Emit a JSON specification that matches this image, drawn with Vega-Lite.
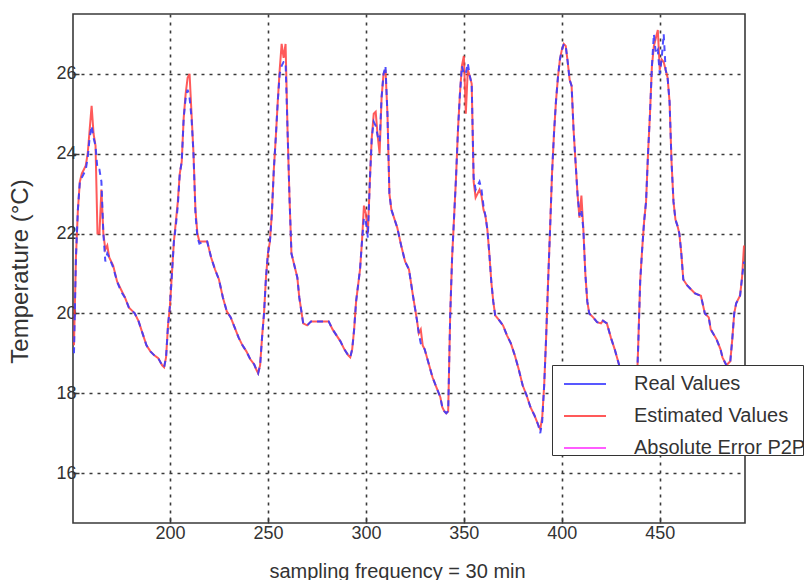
{
  "$schema": "https://vega.github.io/schema/vega-lite/v6.json",
  "width": 672,
  "height": 509,
  "autosize": {"type": "none"},
  "padding": {"left": 73, "top": 14, "right": 59, "bottom": 57},
  "background": "white",
  "config": {
    "font": "Liberation Sans",
    "view": {"stroke": "#3a3a3a", "strokeWidth": 1.6},
    "axis": {
      "domain": false,
      "grid": true,
      "gridColor": "#3a3a3a",
      "gridDash": [3, 5],
      "gridWidth": 1.6,
      "gridOpacity": 1,
      "tickColor": "#3a3a3a",
      "tickWidth": 1.5,
      "tickSize": -6,
      "labelFont": "Liberation Sans",
      "labelFontSize": 18,
      "labelColor": "#333333",
      "titleFont": "Liberation Sans",
      "titleFontWeight": "normal",
      "titleColor": "#333333"
    }
  },
  "data": {
    "values": [
      {"x":151,"r":19.0,"e":19.2},{"x":152,"r":21.4,"e":21.4},{"x":153,"r":22.6,"e":22.6},{"x":154,"r":23.3,"e":23.3},
      {"x":155,"r":23.4,"e":23.5},{"x":156,"r":23.5,"e":23.6},{"x":157,"r":23.6,"e":23.7},{"x":158,"r":23.9,"e":24.0},
      {"x":159,"r":24.4,"e":24.6},{"x":160,"r":24.7,"e":25.2},{"x":161,"r":24.4,"e":24.5},{"x":162,"r":24.2,"e":24.2},
      {"x":163,"r":23.6,"e":22.0},{"x":164,"r":23.6,"e":22.0},{"x":165,"r":23.3,"e":23.1},{"x":166,"r":22.0,"e":22.0},
      {"x":167,"r":21.3,"e":21.6},{"x":168,"r":21.5,"e":21.7},{"x":169,"r":21.4,"e":21.4},{"x":171,"r":21.15,"e":21.2},
      {"x":173,"r":20.8,"e":20.8},{"x":175,"r":20.55,"e":20.6},{"x":177,"r":20.4,"e":20.4},{"x":179,"r":20.15,"e":20.15},
      {"x":181,"r":20.05,"e":20.05},{"x":182,"r":20.0,"e":20.0},{"x":184,"r":19.8,"e":19.8},{"x":186,"r":19.5,"e":19.5},
      {"x":188,"r":19.2,"e":19.2},{"x":190,"r":19.05,"e":19.05},{"x":192,"r":18.95,"e":18.95},{"x":194,"r":18.88,"e":18.88},
      {"x":196,"r":18.7,"e":18.7},{"x":197,"r":18.65,"e":18.65},{"x":198,"r":18.9,"e":18.9},{"x":199,"r":19.7,"e":19.7},
      {"x":200,"r":20.2,"e":20.2},{"x":201,"r":21.0,"e":21.0},{"x":202,"r":21.8,"e":21.8},{"x":203,"r":22.2,"e":22.3},
      {"x":204,"r":22.7,"e":22.8},{"x":205,"r":23.5,"e":23.5},{"x":206,"r":23.8,"e":23.8},{"x":207,"r":24.9,"e":24.9},
      {"x":208,"r":25.4,"e":25.5},{"x":209,"r":25.6,"e":25.9},{"x":210,"r":25.4,"e":26.0},{"x":211,"r":24.9,"e":25.0},
      {"x":212,"r":24.0,"e":24.0},{"x":213,"r":22.5,"e":22.6},{"x":214,"r":21.9,"e":22.0},{"x":215,"r":21.75,"e":21.8},
      {"x":217,"r":21.8,"e":21.8},{"x":219,"r":21.8,"e":21.8},{"x":221,"r":21.4,"e":21.4},{"x":223,"r":21.1,"e":21.1},
      {"x":225,"r":20.85,"e":20.85},{"x":227,"r":20.4,"e":20.4},{"x":229,"r":20.05,"e":20.05},{"x":231,"r":19.9,"e":19.9},
      {"x":233,"r":19.65,"e":19.65},{"x":235,"r":19.4,"e":19.4},{"x":237,"r":19.2,"e":19.2},{"x":239,"r":19.05,"e":19.05},
      {"x":241,"r":18.85,"e":18.85},{"x":243,"r":18.72,"e":18.72},{"x":244,"r":18.6,"e":18.6},{"x":245,"r":18.5,"e":18.5},
      {"x":246,"r":18.7,"e":18.7},{"x":247,"r":19.4,"e":19.4},{"x":248,"r":20.0,"e":20.0},{"x":249,"r":20.9,"e":20.9},
      {"x":250,"r":21.5,"e":21.5},{"x":251,"r":21.8,"e":21.8},{"x":252,"r":22.5,"e":22.5},{"x":253,"r":23.6,"e":23.6},
      {"x":254,"r":24.4,"e":24.4},{"x":255,"r":25.3,"e":25.3},{"x":256,"r":26.0,"e":26.1},{"x":257,"r":26.2,"e":26.75},
      {"x":258,"r":26.3,"e":26.4},{"x":259,"r":26.3,"e":26.75},{"x":260,"r":24.6,"e":24.6},{"x":261,"r":22.9,"e":22.9},
      {"x":262,"r":21.5,"e":21.5},{"x":264,"r":21.1,"e":21.1},{"x":265,"r":20.9,"e":20.9},{"x":266,"r":20.4,"e":20.4},
      {"x":268,"r":19.75,"e":19.75},{"x":270,"r":19.7,"e":19.7},{"x":272,"r":19.8,"e":19.8},{"x":281,"r":19.8,"e":19.8},
      {"x":283,"r":19.6,"e":19.6},{"x":285,"r":19.45,"e":19.45},{"x":287,"r":19.3,"e":19.3},{"x":289,"r":19.1,"e":19.1},
      {"x":291,"r":18.95,"e":18.95},{"x":292,"r":18.9,"e":18.9},{"x":293,"r":19.1,"e":19.1},{"x":294,"r":19.6,"e":19.6},
      {"x":295,"r":20.3,"e":20.3},{"x":297,"r":21.1,"e":21.1},{"x":298,"r":21.8,"e":21.8},{"x":299,"r":22.4,"e":22.7},
      {"x":300,"r":22.3,"e":22.5},{"x":301,"r":21.9,"e":22.0},{"x":302,"r":23.3,"e":23.3},{"x":303,"r":24.4,"e":24.4},
      {"x":304,"r":24.8,"e":25.0},{"x":305,"r":24.7,"e":25.05},{"x":306,"r":24.45,"e":24.45},{"x":307,"r":24.3,"e":24.0},
      {"x":308,"r":25.4,"e":25.4},{"x":309,"r":26.0,"e":26.0},{"x":310,"r":26.2,"e":26.1},{"x":311,"r":25.0,"e":25.0},
      {"x":312,"r":23.0,"e":23.0},{"x":313,"r":22.6,"e":22.6},{"x":314,"r":22.45,"e":22.45},{"x":316,"r":22.15,"e":22.15},
      {"x":318,"r":21.7,"e":21.7},{"x":320,"r":21.3,"e":21.3},{"x":322,"r":21.1,"e":21.1},{"x":324,"r":20.45,"e":20.45},
      {"x":326,"r":19.85,"e":19.85},{"x":327,"r":19.5,"e":19.5},{"x":328,"r":19.25,"e":19.6},{"x":329,"r":19.2,"e":19.2},
      {"x":330,"r":19.1,"e":19.1},{"x":332,"r":18.75,"e":18.75},{"x":334,"r":18.4,"e":18.4},{"x":336,"r":18.15,"e":18.15},
      {"x":338,"r":17.9,"e":17.9},{"x":339,"r":17.65,"e":17.65},{"x":340,"r":17.55,"e":17.55},{"x":341,"r":17.5,"e":17.5},
      {"x":342,"r":17.55,"e":17.55},{"x":343,"r":19.9,"e":19.9},{"x":344,"r":21.4,"e":21.4},{"x":345,"r":22.4,"e":22.4},
      {"x":346,"r":23.4,"e":23.4},{"x":347,"r":24.6,"e":24.6},{"x":348,"r":25.5,"e":25.5},{"x":349,"r":26.2,"e":26.2},
      {"x":350,"r":26.0,"e":26.45},{"x":351,"r":26.0,"e":25.0},{"x":352,"r":26.27,"e":26.1},{"x":353,"r":25.95,"e":25.95},
      {"x":354,"r":25.75,"e":25.75},{"x":355,"r":23.4,"e":23.3},{"x":356,"r":23.1,"e":22.9},{"x":357,"r":23.2,"e":23.0},
      {"x":358,"r":23.3,"e":23.1},{"x":359,"r":23.1,"e":22.95},{"x":360,"r":22.7,"e":22.6},{"x":361,"r":22.45,"e":22.45},
      {"x":362,"r":22.1,"e":22.1},{"x":363,"r":21.5,"e":21.5},{"x":364,"r":20.8,"e":20.8},{"x":365,"r":20.3,"e":20.3},
      {"x":366,"r":19.95,"e":19.95},{"x":368,"r":19.83,"e":19.83},{"x":370,"r":19.7,"e":19.7},{"x":372,"r":19.45,"e":19.45},
      {"x":374,"r":19.25,"e":19.25},{"x":376,"r":18.95,"e":18.95},{"x":378,"r":18.6,"e":18.6},{"x":380,"r":18.2,"e":18.2},
      {"x":382,"r":17.95,"e":17.95},{"x":384,"r":17.65,"e":17.65},{"x":386,"r":17.45,"e":17.45},{"x":388,"r":17.2,"e":17.2},
      {"x":389,"r":17.0,"e":17.1},{"x":390,"r":17.3,"e":17.4},{"x":391,"r":18.2,"e":18.2},{"x":392,"r":19.4,"e":19.4},
      {"x":393,"r":20.8,"e":20.8},{"x":394,"r":22.1,"e":22.1},{"x":395,"r":23.5,"e":23.5},{"x":396,"r":24.5,"e":24.5},
      {"x":397,"r":25.3,"e":25.3},{"x":398,"r":25.9,"e":25.9},{"x":399,"r":26.35,"e":26.35},{"x":400,"r":26.6,"e":26.6},
      {"x":401,"r":26.75,"e":26.75},{"x":402,"r":26.7,"e":26.7},{"x":403,"r":26.3,"e":26.3},{"x":404,"r":25.85,"e":25.85},
      {"x":405,"r":25.7,"e":25.7},{"x":406,"r":24.6,"e":24.6},{"x":407,"r":23.8,"e":23.8},{"x":408,"r":23.0,"e":23.0},
      {"x":409,"r":22.45,"e":22.4},{"x":410,"r":22.6,"e":22.95},{"x":411,"r":22.1,"e":22.1},{"x":412,"r":21.0,"e":21.0},
      {"x":413,"r":20.3,"e":20.3},{"x":414,"r":20.0,"e":20.0},{"x":416,"r":19.9,"e":19.9},{"x":418,"r":19.78,"e":19.78},
      {"x":420,"r":19.75,"e":19.75},{"x":421,"r":19.82,"e":19.82},{"x":423,"r":19.75,"e":19.75},{"x":425,"r":19.4,"e":19.4},
      {"x":427,"r":19.1,"e":19.1},{"x":429,"r":18.75,"e":18.75},{"x":431,"r":18.4,"e":18.4},{"x":433,"r":18.1,"e":18.1},
      {"x":435,"r":17.8,"e":17.8},{"x":437,"r":17.6,"e":17.6},{"x":438,"r":17.8,"e":17.8},{"x":439,"r":19.2,"e":19.2},
      {"x":440,"r":20.8,"e":20.8},{"x":441,"r":21.6,"e":21.6},{"x":442,"r":22.3,"e":22.3},{"x":443,"r":22.8,"e":22.8},
      {"x":444,"r":24.0,"e":24.0},{"x":445,"r":25.0,"e":25.0},{"x":446,"r":26.2,"e":26.2},{"x":447,"r":27.0,"e":26.7},
      {"x":448,"r":26.5,"e":26.9},{"x":449,"r":26.6,"e":27.1},{"x":450,"r":26.0,"e":26.1},{"x":451,"r":26.4,"e":26.36},
      {"x":452,"r":27.0,"e":26.3},{"x":453,"r":26.1,"e":26.1},{"x":454,"r":25.9,"e":25.9},{"x":455,"r":25.3,"e":25.3},
      {"x":456,"r":23.8,"e":23.8},{"x":457,"r":22.8,"e":22.8},{"x":458,"r":22.35,"e":22.35},{"x":459,"r":22.2,"e":22.2},
      {"x":460,"r":22.0,"e":22.0},{"x":461,"r":21.5,"e":21.5},{"x":462,"r":20.85,"e":20.85},{"x":464,"r":20.7,"e":20.7},
      {"x":466,"r":20.6,"e":20.6},{"x":468,"r":20.5,"e":20.5},{"x":471,"r":20.44,"e":20.44},{"x":473,"r":20.0,"e":20.0},
      {"x":475,"r":19.9,"e":19.9},{"x":476,"r":19.6,"e":19.6},{"x":479,"r":19.35,"e":19.35},{"x":481,"r":19.1,"e":19.1},
      {"x":482,"r":18.9,"e":18.9},{"x":484,"r":18.7,"e":18.7},{"x":486,"r":18.8,"e":18.8},{"x":487,"r":19.35,"e":19.35},
      {"x":488,"r":20.0,"e":20.0},{"x":489,"r":20.25,"e":20.25},{"x":491,"r":20.45,"e":20.45},{"x":492,"r":20.9,"e":20.9},
      {"x":493,"r":21.3,"e":21.7}
    ]
  },
  "layer": [
    {
      "mark": {"type": "line", "strokeWidth": 2, "opacity": 0.85},
      "encoding": {
        "x": {
          "field": "x", "type": "quantitative",
          "scale": {"domain": [150.5, 493.5], "nice": false, "zero": false},
          "axis": {
            "values": [200, 250, 300, 350, 400, 450],
            "labelPadding": 7,
            "title": "sampling frequency = 30 min",
            "titleFontSize": 20,
            "titleX": 324,
            "titleY": 38,
            "titleAnchor": null,
            "titleAlign": "center",
            "titleBaseline": "top"
          }
        },
        "y": {
          "field": "e", "type": "quantitative",
          "scale": {"domain": [14.75, 27.5], "nice": false, "zero": false},
          "axis": {
            "values": [16, 18, 20, 22, 24, 26],
            "labelPadding": 3,
            "title": "Temperature (°C)",
            "titleFontSize": 24,
            "titleAngle": 270,
            "titleX": -53,
            "titleY": 257,
            "titleAlign": "center",
            "titleBaseline": "middle"
          }
        },
        "color": {
          "datum": "Estimated Values",
          "type": "nominal",
          "scale": {
            "domain": ["Real Values", "Estimated Values", "Absolute Error P2P"],
            "range": ["#3b3bff", "#ff3d3d", "#ff40ff"]
          },
          "legend": {
            "title": null,
            "orient": "none",
            "legendX": 479,
            "legendY": 351,
            "direction": "vertical",
            "fillColor": "white",
            "strokeColor": "#333333",
            "padding": -3,
            "symbolType": "stroke",
            "symbolSize": 1764,
            "symbolStrokeWidth": 2,
            "symbolDash": [100, 0],
            "symbolOffset": 14,
            "labelFont": "Liberation Sans",
            "labelFontSize": 20,
            "labelColor": "#333333",
            "labelOffset": 27,
            "rowPadding": 0,
            "labelLimit": 400
          }
        }
      }
    },
    {
      "mark": {"type": "line", "strokeWidth": 2, "strokeDash": [6, 5], "opacity": 0.9},
      "encoding": {
        "x": {"field": "x", "type": "quantitative"},
        "y": {"field": "r", "type": "quantitative"},
        "color": {"datum": "Real Values", "type": "nominal"}
      }
    }
  ]
}
